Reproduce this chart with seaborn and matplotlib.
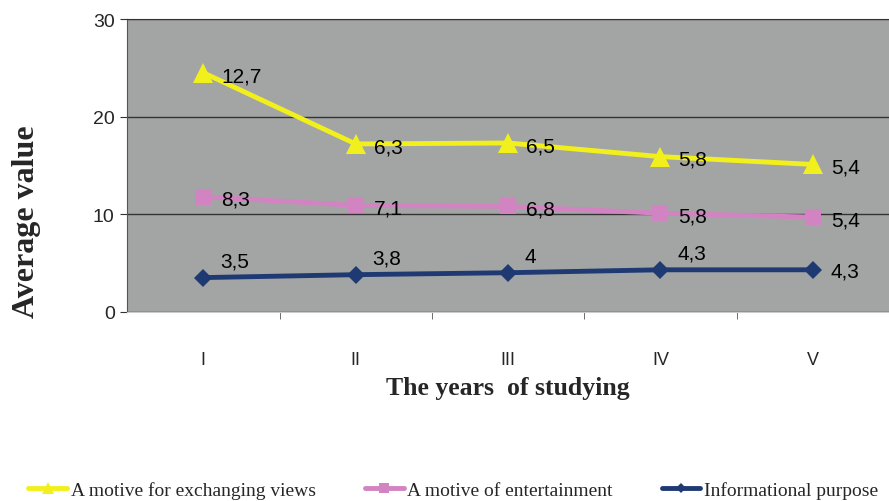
import matplotlib.pyplot as plt
import numpy as np
import pandas as pd
import seaborn as sns

years = ["I", "II", "III", "IV", "V"]
informational = [3.5, 3.8, 4.0, 4.3, 4.3]
entertainment = [8.3, 7.1, 6.8, 5.8, 5.4]
exchanging = [12.7, 6.3, 6.5, 5.8, 5.4]

series_names = [
    "A motive for exchanging views",
    "A motive of entertainment",
    "Informational purpose",
]

sns.set_style("white")
plt.rcParams["font.family"] = ["Liberation Sans", "DejaVu Sans"]

# stacked line chart: each series sits on top of the ones below
stack_info = np.array(informational)
stack_ent = stack_info + np.array(entertainment)
stack_exch = stack_ent + np.array(exchanging)

x = np.arange(len(years))
df = pd.DataFrame({
    "x": np.tile(x, 3),
    "y": np.concatenate([stack_exch, stack_ent, stack_info]),
    "series": np.repeat(series_names, len(years)),
})

fig = plt.figure(figsize=(8.89, 5.02), dpi=100)
ax = fig.add_axes([0.143, 0.377, 0.857, 0.583])
ax.set_facecolor("#a3a5a5")

colors = {series_names[0]: "#f2f01c", series_names[1]: "#d283c1", series_names[2]: "#1f3a73"}
markers = {series_names[0]: "^", series_names[1]: "s", series_names[2]: "D"}
msizes = {series_names[0]: 14, series_names[1]: 11, series_names[2]: 9}

for name in series_names:
    sub = df[df["series"] == name]
    sns.lineplot(
        data=sub, x="x", y="y", ax=ax, color=colors[name], linewidth=3.5,
        marker=markers[name], markersize=msizes[name],
        markeredgewidth=0, markeredgecolor=colors[name],
        label=name, legend=False, zorder=3,
    )

# data labels (individual values, comma decimal)
def fmt(v):
    return f"{v:g}".replace(".", ",")

lab_kw = dict(fontsize=15, color="black", textcoords="offset points", zorder=4,
              ha="left", va="center")
for i in x:
    ax.annotate(fmt(exchanging[i]), (i, stack_exch[i]), xytext=(13, -2), **lab_kw)
    ax.annotate(fmt(entertainment[i]), (i, stack_ent[i]), xytext=(13, -2), **lab_kw)
    if i < len(years) - 1:
        ax.annotate(fmt(informational[i]), (i, stack_info[i]), xytext=(12, 12), **lab_kw)
    else:
        ax.annotate(fmt(informational[i]), (i, stack_info[i]), xytext=(13, -1), **lab_kw)

ax.set_xlim(-0.5, len(years) - 0.5)
ax.set_ylim(0, 30)
ax.set_yticks([0, 10, 20, 30])
ax.yaxis.grid(True, color="#333333", linewidth=1)
ax.set_axisbelow(True)
ax.set_xticks(x)
ax.set_xticklabels(years)
ax.set_xticks(np.arange(0.5, len(years) - 0.5), minor=True)
ax.tick_params(axis="x", which="major", length=0, pad=28, labelsize=13)
ax.tick_params(axis="x", which="minor", bottom=True, length=5, color="#555555",
               direction="out")
ax.tick_params(axis="y", left=True, length=5, color="#333333", labelsize=14, pad=4,
               direction="out")

ax.spines["right"].set_visible(False)
ax.spines["top"].set_color("#333333")
ax.spines["left"].set_color("#555555")
ax.spines["bottom"].set_color("#cccccc")

ax.set_xlabel("The years  of studying", family=["Liberation Serif"], fontsize=18.5,
              fontweight="bold", labelpad=6)
ax.set_ylabel("Average value", family=["Liberation Serif"], fontsize=23,
              fontweight="bold", va="center")
ax.yaxis.set_label_coords(-0.132, 0.31)

handles, labels = ax.get_legend_handles_labels()
fig.legend(handles, labels, loc="lower center", bbox_to_anchor=(0.51, -0.03), ncol=3,
           frameon=False, prop={"family": "Liberation Serif", "size": 14},
           columnspacing=2.5, handlelength=2.0, handletextpad=0.2, markerscale=0.6)

fig.savefig("out.png", dpi=100)
